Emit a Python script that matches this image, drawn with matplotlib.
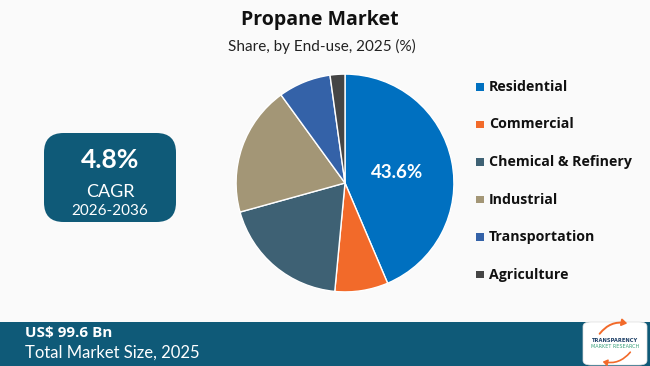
import matplotlib
matplotlib.use("Agg")
import matplotlib.pyplot as plt
from matplotlib.patches import FancyBboxPatch, Rectangle, FancyArrowPatch

# chart data
segments = ["Residential", "Commercial", "Chemical & Refinery", "Industrial",
            "Transportation", "Agriculture"]
shares = [43.6, 7.9, 19.2, 19.3, 7.8, 2.2]
colors = ["#0070C0", "#F26A2A", "#3E6174", "#A39676", "#3462A8", "#454545"]
title = "Propane Market"
subtitle = "Share, by End-use, 2025 (%)"
cagr = "4.8%"
cagr_period = "2026-2036"
market_size = "US$ 99.6 Bn"
market_label = "Total Market Size, 2025"

W, H = 650, 366
bg = "#FAFAFA"
teal = "#0F5A78"

fig = plt.figure(figsize=(6.5, 3.66), dpi=100, facecolor=bg)


def px(x, y):
    # pixel coords (top-left origin) -> figure fraction
    return x / W, 1 - y / H


# title
fig.text(*px(320, 20), title, ha="center", va="center", fontsize=14,
         fontweight="bold", family="Open Sans", color="#111111")
fig.text(*px(322, 46), subtitle, ha="center", va="center", fontsize=11,
         family="Lato", color="#222222")

# pie
cx, cy, r = 345, 183, 110
ax = fig.add_axes([(cx - r) / W, (H - cy - r) / H, 2 * r / W, 2 * r / H])
wedges, _ = ax.pie(shares, colors=colors, startangle=90, counterclock=False,
                   radius=1, wedgeprops=dict(edgecolor="white", linewidth=1.0))
ax.set_xlim(-1.01, 1.01)
ax.set_ylim(-1.01, 1.01)
ax.set_aspect("equal")
ax.axis("off")
ax.text(0.48, 0.10, "%.1f%%" % shares[0], ha="center", va="center",
        fontsize=13.5, fontweight="bold", family="Lato", color="white")

# legend
for i, (name, c) in enumerate(zip(segments, colors)):
    y = 87 + i * 37.5
    fig.patches.append(Rectangle(px(476, y + 3.8), 7.5 / W, 7.5 / H,
                                 transform=fig.transFigure, facecolor=c,
                                 edgecolor="none"))
    fig.text(*px(489, y), name, ha="left", va="center", fontsize=10.2,
             fontweight="bold", family="Open Sans", color="#111111")

# CAGR box
fig.patches.append(FancyBboxPatch(px(44, 222), 132 / W, 89 / H,
                                  boxstyle="round,pad=0,rounding_size=0.03",
                                  transform=fig.transFigure, facecolor=teal,
                                  edgecolor="none", mutation_aspect=W / H))
fig.text(*px(110, 160), cagr, ha="center", va="center", fontsize=19,
         fontweight="bold", family="Lato", color="white")
fig.text(*px(110, 192), "CAGR", ha="center", va="center", fontsize=13,
         family="Lato", color="white")
fig.text(*px(110, 211), cagr_period, ha="center", va="center", fontsize=11,
         family="Lato", color="white")

# bottom band
fig.patches.append(Rectangle((0, 0), 1, 44 / H, transform=fig.transFigure,
                             facecolor=teal, edgecolor="none"))
fig.text(*px(25, 333), market_size, ha="left", va="center", fontsize=11,
         fontweight="bold", family="Open Sans", color="white")
fig.text(*px(25, 353), market_label, ha="left", va="center", fontsize=12,
         family="Lato", color="white")

# logo
fig.patches.append(FancyBboxPatch(px(583, 365), 64 / W, 43 / H,
                                  boxstyle="round,pad=0,rounding_size=0.012",
                                  transform=fig.transFigure, facecolor="white",
                                  edgecolor="#DDDDDD", lw=0.5, zorder=2))
fig.add_artist(FancyArrowPatch(px(598, 336), px(630, 324),
                               transform=fig.transFigure,
                               arrowstyle="-|>,head_length=3,head_width=2",
                               color="#F26A2A", lw=1.4, zorder=5,
                               connectionstyle="arc3,rad=-0.35"))
fig.add_artist(FancyArrowPatch(px(632, 350), px(600, 361),
                               transform=fig.transFigure,
                               arrowstyle="-|>,head_length=2.5,head_width=1.8",
                               color="#F26A2A", lw=1.2, zorder=5,
                               connectionstyle="arc3,rad=-0.35"))
fig.text(*px(615, 340), "TRANSPARENCY", ha="center", va="center", fontsize=3.7,
         fontweight="bold", family="DejaVu Sans", color="#1D3F66", zorder=6)
fig.text(*px(615, 346.5), "MARKET RESEARCH", ha="center", va="center",
         fontsize=3.5, family="DejaVu Sans", color="#3AA07A", zorder=6)

fig.savefig("out.png", dpi=100, facecolor=bg)
